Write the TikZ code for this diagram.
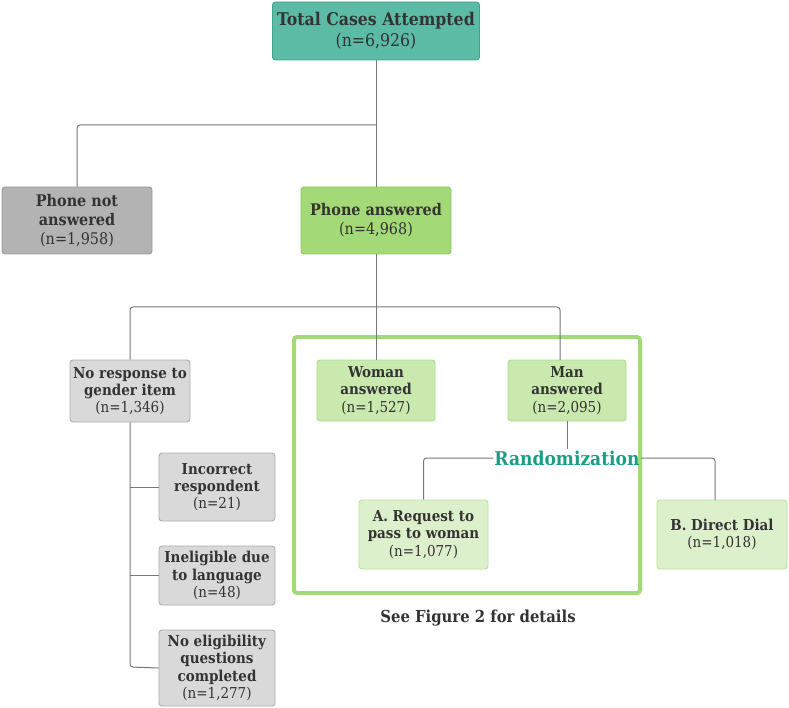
\documentclass[tikz,border=0pt]{standalone}
\usepackage{fontspec}
\setmainfont{DejaVu Serif Condensed}
\usetikzlibrary{calc}
\definecolor{tealF}{HTML}{5BBBA5}
\definecolor{tealD}{HTML}{3FA68C}
\definecolor{grayF}{HTML}{B3B3B3}
\definecolor{grayD}{HTML}{999999}
\definecolor{greenF}{HTML}{A3D977}
\definecolor{greenD}{HTML}{8CC865}
\definecolor{lgreenF}{HTML}{C9E9AF}
\definecolor{lgreenD}{HTML}{A9DC89}
\definecolor{vlgreenF}{HTML}{DDF0CC}
\definecolor{vlgreenD}{HTML}{B5E29A}
\definecolor{lgrayF}{HTML}{D9D9D9}
\definecolor{lgrayD}{HTML}{ADADAD}
\definecolor{lineC}{HTML}{777777}
\definecolor{randC}{HTML}{1A9E83}
\definecolor{txt}{HTML}{333333}
\tikzset{
  box/.style={rectangle, rounded corners=3pt, draw, line width=0.9pt, align=center,
    inner sep=0pt, text=txt, font=\fontsize{15}{17.2}\selectfont},
  conn/.style={draw=lineC, line width=1pt, rounded corners=3pt},
}
\begin{document}
\begin{tikzpicture}[x=1pt,y=-1pt]
\useasboundingbox (0,0) rectangle (789,708);
% frame
\draw[greenF, line width=4pt, rounded corners=3pt] (294,337) rectangle (640,593);
% nodes
\node[box, fill=tealF, draw=tealD, minimum width=207pt, minimum height=58pt, font=\fontsize{17.5}{21}\selectfont] (tot) at (376,31) {\textbf{Total Cases Attempted}\\(n=6,926)};
\node[box, fill=grayF, draw=grayD, minimum width=150pt, minimum height=67pt, font=\fontsize{16}{19}\selectfont] (pna) at (77,220.5) {\textbf{Phone not}\\\textbf{answered}\\(n=1,958)};
\node[box, fill=greenF, draw=greenD, minimum width=150pt, minimum height=67pt, font=\fontsize{16}{19}\selectfont] (pa) at (376,220.5) {\textbf{Phone answered}\\(n=4,968)};
\node[box, fill=lgrayF, draw=lgrayD, minimum width=120pt, minimum height=62pt] (nr) at (130,391) {\textbf{No response to}\\\textbf{gender item}\\(n=1,346)};
\node[box, fill=lgreenF, draw=lgreenD, minimum width=118pt, minimum height=61pt] (wa) at (376,390.5) {\textbf{Woman}\\\textbf{answered}\\(n=1,527)};
\node[box, fill=lgreenF, draw=lgreenD, minimum width=118pt, minimum height=61pt] (ma) at (567,390.5) {\textbf{Man}\\\textbf{answered}\\(n=2,095)};
\node[text=randC, font=\bfseries\fontsize{19}{22}\selectfont, inner sep=1pt] (rand) at (567,458) {Randomization};
\node[box, fill=vlgreenF, draw=vlgreenD, minimum width=129pt, minimum height=69pt] (ra) at (423.5,534.5) {\textbf{A. Request to}\\\textbf{pass to woman}\\(n=1,077)};
\node[box, fill=vlgreenF, draw=vlgreenD, minimum width=130pt, minimum height=69pt] (rb) at (722,534.5) {\textbf{B. Direct Dial}\\(n=1,018)};
\node[box, fill=lgrayF, draw=lgrayD, minimum width=116pt, minimum height=68pt] (inc) at (217,487) {\textbf{Incorrect}\\\textbf{respondent}\\(n=21)};
\node[box, fill=lgrayF, draw=lgrayD, minimum width=116pt, minimum height=59pt] (inel) at (217,575.5) {\textbf{Ineligible due}\\\textbf{to language}\\(n=48)};
\node[box, fill=lgrayF, draw=lgrayD, minimum width=116pt, minimum height=76pt] (noel) at (217,668) {\textbf{No eligibility}\\\textbf{questions}\\\textbf{completed}\\(n=1,277)};
\node[text=txt, font=\bfseries\fontsize{16.5}{20}\selectfont] (see) at (478,618) {See Figure 2 for details};
% connectors
\coordinate (j1) at (376,125);
\coordinate (j2) at (376,307);
\coordinate (mtop) at (560,360);
\coordinate (btop) at (715,500);
\draw[conn] (tot.south) -- (j1);
\draw[conn] (j1) -| (pna.north);
\draw[conn] (j1) -- (pa.north);
\draw[conn] (pa.south) -- (j2);
\draw[conn] (j2) -| (nr.north);
\draw[conn] (j2) -- (wa.north);
\draw[conn] (j2) -| (mtop);
\draw[conn] (ma.south) -- (rand.north);
\draw[conn] (rand.west) -| (ra.north);
\draw[conn] (rand.east) -| (btop);
\coordinate (lb) at (130,667);
\draw[conn] (nr.south) -- (lb) -- (noel.west);
\draw[conn] (nr.south |- inc.west) -- (inc.west);
\draw[conn] (nr.south |- inel.west) -- (inel.west);
\end{tikzpicture}
\end{document}
